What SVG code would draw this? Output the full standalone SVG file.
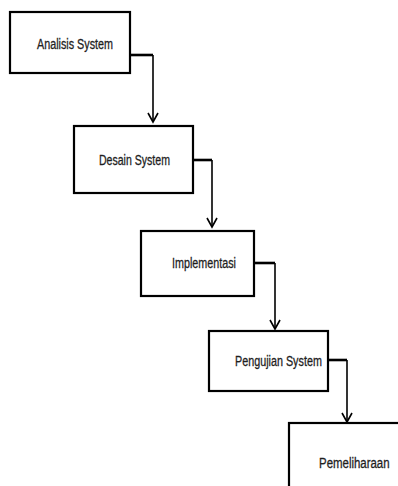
<svg xmlns="http://www.w3.org/2000/svg" width="398" height="486" viewBox="0 0 398 486">
  <defs>
    <style>
      .box { fill: #ffffff; stroke: #000000; stroke-width: 2.2; }
      .lbl { font-family: "Liberation Sans", Arial, sans-serif; font-size: 14.5px; fill: #1e1e1e; stroke: #1e1e1e; stroke-width: 0.3; }
      .link { fill: none; stroke: #000000; stroke-width: 1.6; }
      .stub { fill: none; stroke: #000000; stroke-width: 2.6; }
      .head { fill: none; stroke: #000000; stroke-width: 1.6; stroke-linejoin: miter; }
    </style>
  </defs>
  <rect width="398" height="486" fill="#ffffff"/>

  <!-- labels use a horizontally condensed sans -->
  <g id="node-analisis">
    <rect class="box" x="10" y="12" width="120" height="61"/>
    <text class="lbl" transform="translate(37,49) scale(0.743,1)">Analisis System</text>
  </g>

  <g id="node-desain">
    <rect class="box" x="74" y="126" width="119" height="67"/>
    <text class="lbl" transform="translate(99,165) scale(0.728,1)">Desain System</text>
  </g>

  <g id="node-implementasi">
    <rect class="box" x="141" y="231" width="113" height="65"/>
    <text class="lbl" transform="translate(172,268) scale(0.742,1)">Implementasi</text>
  </g>

  <g id="node-pengujian">
    <rect class="box" x="209" y="331" width="119" height="60"/>
    <text class="lbl" transform="translate(235,366) scale(0.744,1)">Pengujian System</text>
  </g>

  <!-- last stage box runs past the right and bottom edges -->
  <g id="node-pemeliharaan">
    <rect class="box" x="289" y="423" width="130" height="80"/>
    <text class="lbl" transform="translate(319,468) scale(0.79,1)">Pemeliharaan</text>
  </g>

  <g id="connectors">
    <!-- Analisis -> Desain -->
    <polyline class="stub" points="130,55 153,55"/>
    <polyline class="link" points="153,55 153,122"/>
    <polyline class="head" points="148,113 153,122 158,113"/>
    <!-- Desain -> Implementasi -->
    <polyline class="stub" points="193,160 212,160"/>
    <polyline class="link" points="212,160 212,227"/>
    <polyline class="head" points="207,218 212,227 217,218"/>
    <!-- Implementasi -> Pengujian -->
    <polyline class="stub" points="254,263 275,263"/>
    <polyline class="link" points="275,263 275,329"/>
    <polyline class="head" points="270,320 275,329 280,320"/>
    <!-- Pengujian -> Pemeliharaan -->
    <polyline class="stub" points="328,360 347,360"/>
    <polyline class="link" points="347,360 347,422"/>
    <polyline class="head" points="342,413 347,422 352,413"/>
  </g>
</svg>
